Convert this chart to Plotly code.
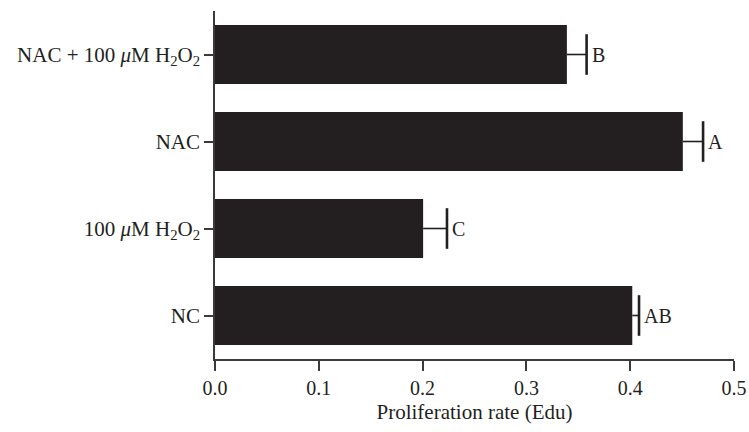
import plotly.graph_objects as go

categories = ["NC", "100 <i>μ</i>M H<sub>2</sub>O<sub>2</sub>", "NAC",
              "NAC + 100 <i>μ</i>M H<sub>2</sub>O<sub>2</sub>"]
values = [0.402, 0.2005, 0.4507, 0.339]
errors = [0.0065, 0.023, 0.0195, 0.019]
letters = ["AB", "C", "A", "B"]
x_ticks = [0.0, 0.1, 0.2, 0.3, 0.4, 0.5]
x_tick_labels = ["0.0", "0.1", "0.2", "0.3", "0.4", "0.5"]

bar_color = "#231f20"
axis_color = "#3a3a3a"
font_family = "Liberation Serif"
fs = 21
W, H = 749, 432

fig = go.Figure()
fig.add_trace(go.Bar(
    y=categories, x=values, orientation="h",
    marker=dict(color=bar_color, line=dict(width=0)),
    showlegend=False, hoverinfo="skip",
))

# error stems
sx, sy = [], []
for c, v, e in zip(categories, values, errors):
    sx += [v, v + e, None]
    sy += [c, c, None]
fig.add_trace(go.Scatter(
    x=sx, y=sy, mode="lines", line=dict(color=bar_color, width=1.6),
    showlegend=False, hoverinfo="skip",
))
# error caps
fig.add_trace(go.Scatter(
    x=[v + e for v, e in zip(values, errors)], y=categories, mode="markers",
    marker=dict(symbol="line-ns-open", size=29, color=bar_color,
                line=dict(color=bar_color, width=2.6)),
    showlegend=False, hoverinfo="skip",
))

for c, v, e, t in zip(categories, values, errors, letters):
    fig.add_annotation(x=v + e, y=c, text=t, showarrow=False,
                       xanchor="left", yanchor="middle", xshift=3,
                       font=dict(family=font_family, size=fs - 1, color=bar_color))

fig.update_layout(
    width=W, height=H, autosize=False,
    margin=dict(l=215, r=15, t=11, b=73),
    paper_bgcolor="white", plot_bgcolor="white",
    bargap=0.32,
    font=dict(family=font_family, size=fs, color=bar_color),
    xaxis=dict(
        range=[0, 0.5], tickvals=x_ticks, ticktext=x_tick_labels,
        automargin=False, ticklabeloverflow="allow",
        showgrid=False, zeroline=False,
        showline=True, linecolor=axis_color, linewidth=1.5,
        ticks="outside", ticklen=10, tickwidth=1.5, tickcolor=axis_color,
        tickfont=dict(family=font_family, size=fs - 1, color=bar_color),
        title=dict(text="Proliferation rate (Edu)", standoff=7,
                   font=dict(family=font_family, size=fs, color=bar_color)),
    ),
    yaxis=dict(
        range=[-0.5, 3.5], automargin=False,
        showgrid=False, zeroline=False,
        showline=True, linecolor=axis_color, linewidth=1.5,
        ticks="outside", ticklen=9, tickwidth=1.5, tickcolor=axis_color,
        tickfont=dict(family=font_family, size=fs, color=bar_color),
    ),
)

fig.write_html(
    "out.html",
    config=dict(displayModeBar=False, responsive=False),
    post_script=("document.body.style.margin='0';"
                 "document.body.style.overflow='hidden';"
                 "var gd=document.getElementById('{plot_id}');"
                 "Plotly.relayout(gd,{width:%d,height:%d});" % (W, H)),
)
